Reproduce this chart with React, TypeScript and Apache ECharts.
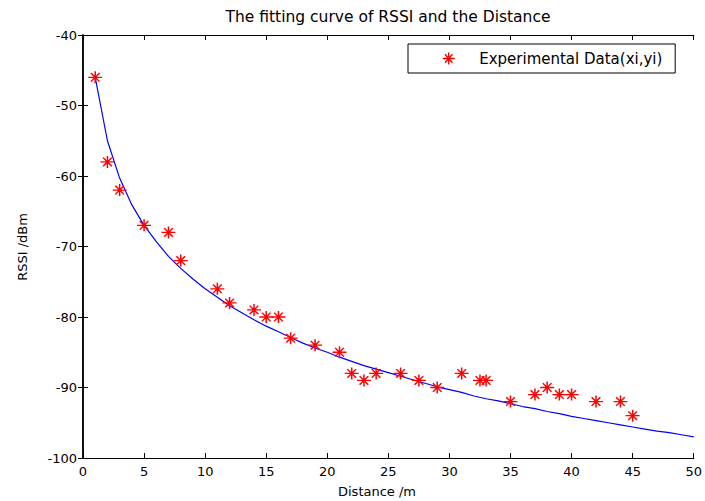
import React, { useEffect, useRef } from "react";
import * as echarts from "echarts";

const titleText = "The fitting curve of RSSI and the Distance";
const xAxisName = "Distance /m";
const yAxisName = "RSSI /dBm";
const legendName = "Experimental Data(xi,yi)";

// Experimental points (distance m, RSSI dBm)
const expX = [1, 2, 3, 5, 7, 8, 11, 12, 14, 15, 16, 17, 19, 21, 22, 23, 24, 26, 27.5, 29, 31, 32.5, 33, 35, 37, 38, 39, 40, 42, 44, 45];
const expY = [-46, -58, -62, -67, -68, -72, -76, -78, -79, -80, -80, -83, -84, -85, -88, -89, -88, -88, -89, -90, -88, -89, -89, -92, -91, -90, -91, -91, -92, -92, -94];

// Fitted curve, read at each metre
const curveX = [1, 2, 3, 4, 5, 6, 7, 8, 9, 10, 11, 12, 13, 14, 15, 16, 17, 18, 19, 20, 21, 22, 23, 24, 25, 26, 27, 28, 29, 30, 31, 32, 33, 34, 35, 36, 37, 38, 39, 40, 41, 42, 43, 44, 45, 46, 47, 48, 49, 50];
const curveY = [-46.0, -55.0, -60.3, -64.1, -67.0, -69.3, -71.4, -73.1, -74.6, -76.0, -77.2, -78.4, -79.4, -80.4, -81.3, -82.1, -82.9, -83.7, -84.4, -85.0, -85.7, -86.3, -86.9, -87.4, -87.9, -88.4, -88.9, -89.4, -89.9, -90.3, -90.7, -91.2, -91.6, -91.9, -92.3, -92.7, -93.0, -93.4, -93.7, -94.1, -94.4, -94.7, -95.0, -95.3, -95.6, -95.9, -96.2, -96.4, -96.7, -97.0];

const xMin = 0, xMax = 50, xStep = 5;
const yMin = -100, yMax = -40, yStep = 10;

const STAR = "path://M-1,0 L1,0 M0,-1 L0,1 M-0.62,-0.72 L0.62,0.72 M-0.62,0.72 L0.62,-0.72";
const FONT = "DejaVu Sans";

export default function App() {
  const ref = useRef<HTMLDivElement>(null);
  useEffect(() => {
    document.body.style.margin = "0";
    const chart = echarts.init(ref.current!, null, { renderer: "svg" });
    const axisLineV = { show: true, lineStyle: { color: "#000", width: 1.5 } };
    const axisLineH = { show: true, lineStyle: { color: "#000", width: 1.2 } };
    const tick = { show: true, inside: true, length: 5, lineStyle: { color: "#000", width: 1 } };
    const labelStyle = { color: "#000", fontFamily: FONT, fontSize: 13 };
    chart.setOption({
      animation: false,
      backgroundColor: "#fff",
      grid: { left: 83, right: 9, top: 35, bottom: 43 },
      legend: {
        data: [legendName],
        left: 408,
        top: 44,
        orient: "vertical",
        padding: [7, 10, 7, 34],
        backgroundColor: "#fff",
        borderColor: "#000",
        borderWidth: 1,
        borderRadius: 0,
        itemWidth: 51,
        itemHeight: 12,
        icon: STAR,
        itemStyle: { color: "#ff0000", borderColor: "#ff0000", borderWidth: 1.4 },
        textStyle: { color: "#000", fontFamily: FONT, fontSize: 15, width: 186, lineHeight: 15, padding: 0 },
      },
      xAxis: [
        {
          type: "value", min: xMin, max: xMax, interval: xStep, position: "bottom",
          axisLine: axisLineH, axisTick: tick, splitLine: { show: false },
          axisLabel: { ...labelStyle, margin: 7 },
        },
        {
          type: "value", min: xMin, max: xMax, interval: xStep, position: "top",
          axisLine: axisLineH, axisTick: tick, splitLine: { show: false },
          axisLabel: { show: false },
        },
      ],
      yAxis: [
        {
          type: "value", min: yMin, max: yMax, interval: yStep, position: "left",
          axisLine: axisLineV, axisTick: tick, splitLine: { show: false },
          axisLabel: { ...labelStyle, margin: 6 },
        },
        {
          type: "value", min: yMin, max: yMax, interval: yStep, position: "right",
          axisLine: axisLineV, axisTick: tick, splitLine: { show: false },
          axisLabel: { show: false },
        },
      ],
      graphic: [
        {
          type: "text", x: 388, y: 17,
          style: { text: titleText, fill: "#000", font: `15.5px "${FONT}"`, textAlign: "center", textVerticalAlign: "middle" },
        },
        {
          type: "text", x: 377, y: 491,
          style: { text: xAxisName, fill: "#000", font: `13px "${FONT}"`, textAlign: "center", textVerticalAlign: "middle" },
        },
        {
          type: "text", x: 22, y: 247, rotation: Math.PI / 2,
          style: { text: yAxisName, fill: "#000", font: `13px "${FONT}"`, textAlign: "center", textVerticalAlign: "middle" },
        },
      ],
      series: [
        {
          name: "fit",
          type: "line",
          data: curveX.map((x, i) => [x, curveY[i]]),
          showSymbol: false,
          symbol: "none",
          lineStyle: { color: "#0000ff", width: 1.2 },
          z: 2,
        },
        {
          name: legendName,
          type: "scatter",
          data: expX.map((x, i) => [x, expY[i]]),
          symbol: STAR,
          symbolSize: [14, 12],
          itemStyle: { color: "#ff0000", borderColor: "#ff0000", borderWidth: 1.4, opacity: 1 },
          z: 3,
        },
      ],
    });
    return () => chart.dispose();
  }, []);
  return <div ref={ref} style={{ width: 705, height: 501 }} />;
}
